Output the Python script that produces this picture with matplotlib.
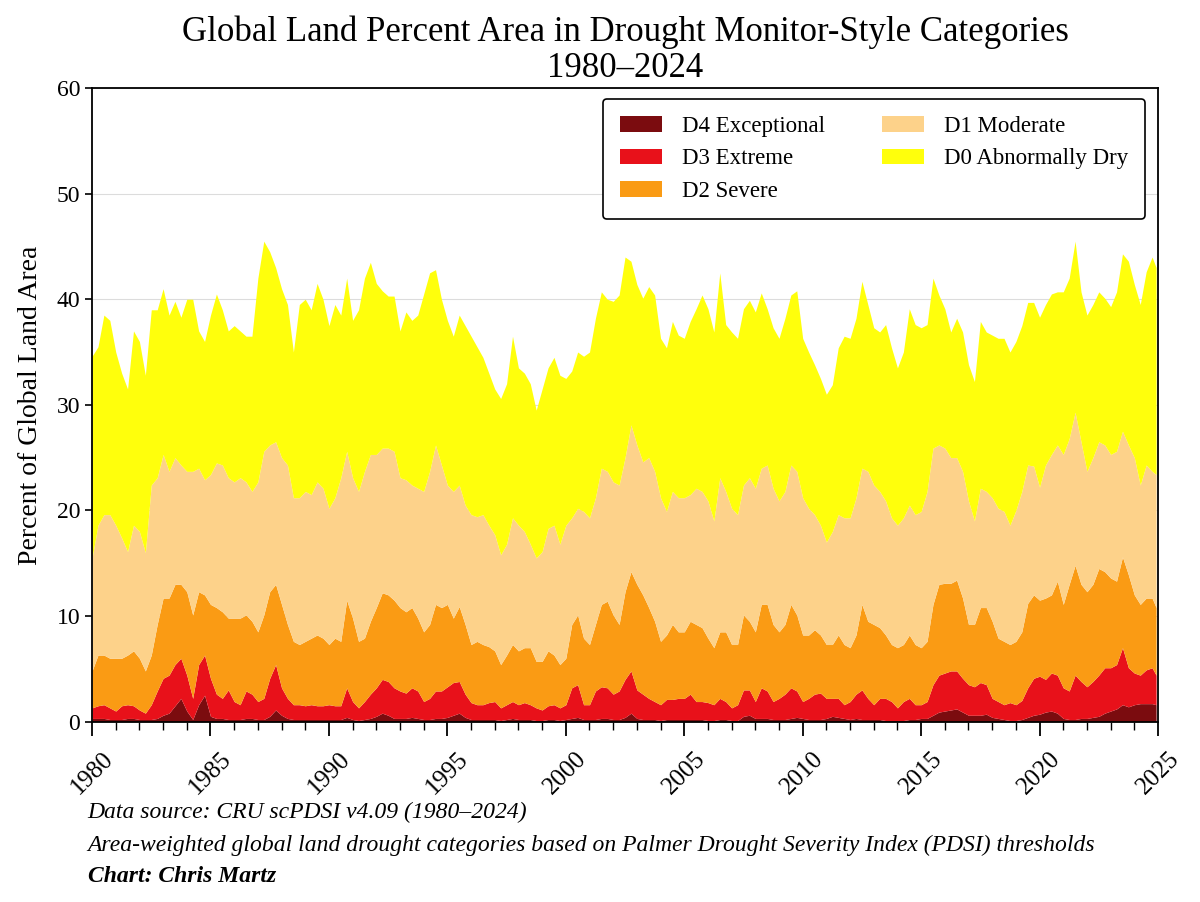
import numpy as np
import matplotlib
matplotlib.use("Agg")
import matplotlib.pyplot as plt

# quarterly readings (cumulative % of land in each category or worse), last value = Dec 2024
d0_top = [34.6, 35.5, 38.5, 38.0,  35.0, 33.0, 31.5, 37.0,  36.0, 32.8, 39.0, 39.0,
          41.0, 38.5, 39.8, 38.3,  40.0, 40.0, 37.0, 36.0,  38.5, 40.5, 39.0, 37.0,
          37.5, 37.0, 36.5, 36.5,  42.0, 45.5, 44.5, 43.0,  41.0, 39.5, 35.0, 39.5,
          40.0, 39.0, 41.5, 40.0,  37.5, 39.5, 38.5, 42.0,  38.0, 39.0, 42.0, 43.5,
          41.5, 40.8, 40.3, 40.3,  37.0, 38.8, 38.0, 38.5,  40.5, 42.5, 42.8, 40.0,
          38.0, 36.5, 38.5, 37.5,  36.5, 35.5, 34.5, 33.0,  31.5, 30.6, 32.0, 36.5,
          33.5, 33.0, 32.0, 29.5,  31.5, 33.5, 34.5, 32.8,  32.5, 33.2, 35.0, 34.6,
          35.0, 38.2, 40.7, 40.0,  39.8, 40.4, 44.0, 43.6,  41.4, 40.1, 41.2, 40.4,
          36.3, 35.4, 37.9, 36.6,  36.3, 37.9, 39.1, 40.4,  39.1, 36.9, 42.5, 37.6,
          36.9, 36.3, 39.1, 39.9,  38.8, 40.6, 39.1, 37.3,  36.3, 38.2, 40.4, 40.8,
          36.3, 35.0, 33.8, 32.5,  31.0, 31.9, 35.4, 36.5,  36.3, 38.2, 41.7, 39.5,
          37.3, 36.9, 37.6, 35.4,  33.5, 35.0, 39.1, 37.6,  37.3, 37.6, 42.0, 40.4,
          39.1, 36.9, 38.2, 36.9,  33.8, 32.2, 37.9, 36.9,  36.6, 36.3, 36.3, 35.0,
          36.0, 37.5, 39.7, 39.7,  38.3, 39.5, 40.5, 40.7,  40.7, 42.0, 45.5, 40.7,
          38.5, 39.5, 40.7, 40.1,  39.3, 40.7, 44.3, 43.6,  41.4, 39.5, 42.6, 44.0,
          43.0]

d1_top = [15.5, 18.6, 19.6, 19.6,  18.6, 17.4, 16.1, 18.6,  18.0, 16.0, 22.4, 23.1,
          25.3, 23.7, 25.0, 24.3,  23.7, 23.7, 24.0, 22.9,  23.4, 24.5, 24.3, 23.1,
          22.7, 23.1, 22.7, 21.8,  22.7, 25.6, 26.2, 26.5,  25.0, 24.3, 21.2, 21.2,
          21.8, 21.5, 22.7, 22.1,  20.2, 21.2, 23.1, 25.6,  23.1, 21.8, 23.7, 25.3,
          25.3, 25.9, 25.9, 25.6,  23.1, 22.9, 22.4, 22.1,  21.8, 23.7, 26.2, 24.3,
          22.4, 21.8, 22.4, 20.5,  19.6, 19.4, 19.6, 18.6,  17.7, 15.8, 16.8, 19.3,
          18.6, 18.0, 16.8, 15.5,  16.1, 18.3, 18.6, 16.8,  18.6, 19.3, 20.2, 19.9,
          19.3, 21.2, 24.0, 23.7,  22.7, 22.4, 25.0, 28.1,  26.2, 24.6, 25.0, 23.7,
          21.2, 19.9, 21.8, 21.2,  21.2, 21.5, 22.1, 21.8,  20.9, 19.0, 23.1, 21.8,
          20.2, 19.6, 22.4, 23.1,  22.1, 24.0, 24.3, 22.1,  20.9, 21.8, 24.3, 23.7,
          21.2, 20.2, 19.6, 18.6,  17.0, 18.0, 19.6, 19.3,  19.3, 21.2, 24.0, 23.7,
          22.4, 21.8, 20.9, 19.3,  18.6, 19.3, 20.5, 19.6,  19.9, 21.8, 25.9, 26.2,
          25.9, 25.0, 25.0, 23.7,  20.9, 19.0, 22.1, 21.8,  21.2, 20.2, 19.9, 18.6,
          20.0, 21.8, 24.3, 24.2,  22.2, 24.3, 25.3, 26.2,  25.3, 26.8, 29.3, 26.5,
          23.7, 25.0, 26.5, 26.2,  25.3, 25.6, 27.5, 26.2,  25.0, 22.4, 24.3, 23.7,
          23.4]

d2_top = [4.8, 6.3, 6.3, 6.0,  6.0, 6.0, 6.3, 6.7,  6.0, 4.8, 6.3, 9.2,
          11.7, 11.7, 13.0, 13.0,  12.3, 10.1, 12.3, 12.0,  11.1, 10.8, 10.4, 9.8,
          9.8, 9.8, 10.1, 9.5,  8.5, 10.1, 12.3, 13.0,  11.1, 9.2, 7.6, 7.3,
          7.6, 7.9, 8.2, 7.9,  7.3, 7.9, 7.6, 11.5,  9.8, 7.6, 7.9, 9.5,
          10.8, 12.2, 12.0, 11.5,  10.8, 10.4, 10.8, 9.8,  8.5, 9.2, 11.1, 10.8,
          11.1, 9.8, 10.9, 9.2,  7.3, 7.6, 7.3, 7.1,  6.7, 5.4, 6.3, 7.3,
          6.7, 7.0, 7.0, 5.7,  5.7, 6.7, 6.3, 5.4,  6.0, 9.2, 10.1, 7.9,
          7.3, 9.2, 11.1, 11.4,  10.1, 9.2, 12.3, 14.2,  13.0, 12.0, 10.8, 9.5,
          7.6, 8.2, 9.2, 8.5,  8.5, 9.5, 9.2, 8.9,  7.9, 7.0, 8.5, 8.5,
          7.3, 7.3, 10.1, 9.5,  8.5, 11.1, 11.1, 9.2,  8.5, 9.2, 11.1, 10.1,
          8.2, 8.2, 8.7, 8.2,  7.3, 7.3, 8.2, 7.3,  7.0, 8.2, 11.1, 9.5,
          9.2, 8.9, 8.2, 7.3,  7.0, 7.3, 8.2, 7.3,  7.0, 7.6, 11.1, 13.0,
          13.1, 13.1, 13.4, 11.7,  9.2, 9.2, 10.8, 10.8,  9.5, 7.9, 7.6, 7.3,
          7.6, 8.5, 11.2, 12.0,  11.5, 11.7, 12.0, 13.3,  11.1, 13.0, 14.8, 13.0,
          12.3, 13.0, 14.5, 14.2,  13.6, 13.3, 15.6, 13.9,  12.0, 11.1, 11.7, 11.7,
          10.8]

d3_top = [1.3, 1.5, 1.6, 1.3,  1.0, 1.5, 1.6, 1.5,  1.1, 0.8, 1.6, 2.9,
          4.1, 4.4, 5.4, 6.0,  4.4, 2.2, 5.4, 6.3,  4.1, 2.6, 2.2, 3.0,
          1.9, 1.6, 2.9, 2.6,  1.9, 2.2, 4.1, 5.4,  3.2, 2.2, 1.6, 1.6,
          1.5, 1.6, 1.5, 1.5,  1.6, 1.5, 1.5, 3.2,  1.9, 1.3, 1.9, 2.6,
          3.2, 4.0, 3.8, 3.2,  2.9, 2.7, 3.2, 2.9,  1.9, 2.2, 2.9, 2.9,
          3.3, 3.7, 3.8, 2.6,  1.8, 1.6, 1.6, 1.8,  1.9, 1.3, 1.6, 1.9,
          1.6, 1.8, 1.6, 1.3,  1.1, 1.5, 1.6, 1.3,  1.6, 3.2, 3.5, 1.6,
          1.6, 2.9, 3.3, 3.2,  2.6, 2.9, 4.0, 4.8,  3.0, 2.6, 2.2, 1.9,
          1.6, 2.1, 2.1, 2.2,  2.2, 2.6, 1.9, 1.9,  1.8, 1.6, 2.2, 1.9,
          1.3, 1.6, 3.0, 3.0,  1.9, 3.2, 2.9, 1.9,  2.2, 2.6, 3.2, 2.9,
          1.9, 2.2, 2.6, 2.7,  2.2, 2.2, 2.2, 1.6,  1.9, 2.6, 3.0, 2.2,
          1.6, 2.2, 2.2, 1.9,  1.3, 1.9, 2.2, 1.6,  1.6, 1.9, 3.5, 4.4,
          4.6, 4.8, 4.8, 4.1,  3.5, 3.3, 3.7, 3.5,  2.2, 1.9, 1.6, 1.8,
          1.6, 2.0, 3.2, 4.1,  4.3, 4.0, 4.6, 4.4,  3.2, 2.9, 4.4, 3.8,
          3.3, 3.8, 4.4, 5.1,  5.1, 5.4, 7.0, 5.1,  4.6, 4.4, 4.9, 5.1,
          4.4]

d4_top = [0.3, 0.3, 0.3, 0.2,  0.2, 0.2, 0.3, 0.3,  0.2, 0.2, 0.2, 0.3,
          0.6, 0.8, 1.5, 2.2,  1.0, 0.2, 1.6, 2.5,  0.5, 0.3, 0.3, 0.2,
          0.2, 0.2, 0.3, 0.3,  0.2, 0.2, 0.5, 1.1,  0.6, 0.3, 0.2, 0.2,
          0.2, 0.2, 0.2, 0.2,  0.2, 0.2, 0.2, 0.4,  0.2, 0.1, 0.2, 0.3,
          0.5, 0.8, 0.6, 0.3,  0.3, 0.3, 0.4, 0.3,  0.2, 0.2, 0.3, 0.3,
          0.4, 0.6, 0.8, 0.4,  0.2, 0.2, 0.2, 0.2,  0.2, 0.1, 0.2, 0.3,
          0.2, 0.2, 0.2, 0.1,  0.1, 0.2, 0.2, 0.1,  0.2, 0.3, 0.4, 0.2,
          0.2, 0.2, 0.3, 0.3,  0.2, 0.2, 0.4, 0.8,  0.3, 0.2, 0.2, 0.2,
          0.1, 0.2, 0.2, 0.2,  0.2, 0.2, 0.2, 0.2,  0.1, 0.1, 0.2, 0.2,
          0.1, 0.1, 0.5, 0.6,  0.3, 0.3, 0.3, 0.2,  0.2, 0.2, 0.3, 0.4,
          0.3, 0.2, 0.2, 0.2,  0.3, 0.5, 0.4, 0.3,  0.2, 0.3, 0.2, 0.2,
          0.2, 0.2, 0.1, 0.1,  0.1, 0.1, 0.2, 0.2,  0.3, 0.3, 0.6, 0.9,
          1.0, 1.1, 1.2, 0.9,  0.6, 0.6, 0.6, 0.7,  0.4, 0.3, 0.2, 0.1,
          0.1, 0.2, 0.4, 0.6,  0.7, 0.9, 1.0, 0.8,  0.3, 0.2, 0.2, 0.3,
          0.3, 0.4, 0.5, 0.8,  1.0, 1.2, 1.6, 1.4,  1.6, 1.7, 1.7, 1.7,
          1.6]

labels = ["D4 Exceptional", "D3 Extreme", "D2 Severe", "D1 Moderate", "D0 Abnormally Dry"]
colors = ["#7b0c0f", "#e8111a", "#fa9b14", "#fdd28a", "#ffff0c"]
year_ticks = list(range(1980, 2026, 5))

# time axis: quarters from Jan 1980, last point Dec 2024
t = np.append(np.arange(1980, 2025, 0.25), 2024.92)

plt.rcParams['font.family'] = ['Liberation Serif', 'DejaVu Serif']

fig = plt.figure(figsize=(12, 9.02), dpi=100)
ax = fig.add_axes([0.0767, 0.2, 0.8883, 0.7024])

layers = [np.zeros(len(t)), np.array(d4_top), np.array(d3_top),
          np.array(d2_top), np.array(d1_top), np.array(d0_top)]
for i in range(5):
    ax.fill_between(t, layers[i], layers[i + 1], color=colors[i], lw=0,
                    label=labels[i], zorder=2)

ax.set_xlim(1980, 2025)
ax.set_ylim(0, 60)
ax.set_xticks(year_ticks)
ax.set_xticks(range(1980, 2026), minor=True)
ax.set_xticklabels([str(y) for y in year_ticks], rotation=45, fontsize=18)
ax.tick_params(axis='y', labelsize=17, length=5, width=1.2)
ax.tick_params(axis='x', which='major', length=10, width=1.3, pad=9)
ax.tick_params(axis='x', which='minor', length=6, width=1)
ax.grid(axis='y', color='#dcdcdc', lw=0.8, zorder=1)
ax.set_axisbelow(True)
for s in ax.spines.values():
    s.set_linewidth(1.3)

ax.set_ylabel("Percent of Global Land Area", fontsize=20, labelpad=10)
ax.set_title("Global Land Percent Area in Drought Monitor-Style Categories\n1980\u20132024",
             fontsize=25, linespacing=1.1, pad=8)

leg = ax.legend(loc='upper right', ncol=2, fontsize=16.5, frameon=True,
                edgecolor='black', fancybox=True, handlelength=1.85, handleheight=0.65,
                handletextpad=0.85, borderpad=0.75, columnspacing=2.5, labelspacing=0.5,
                borderaxespad=0, bbox_to_anchor=(0.988, 0.983))
leg.get_frame().set_linewidth(1.2)
leg.get_frame().set_alpha(1)

fig.text(0.073, 0.093, "Data source: CRU scPDSI v4.09 (1980\u20132024)",
         fontsize=17, style='italic')
fig.text(0.073, 0.057, "Area-weighted global land drought categories based on Palmer Drought Severity Index (PDSI) thresholds",
         fontsize=17, style='italic')
fig.text(0.073, 0.022, "Chart: Chris Martz", fontsize=17, style='italic', weight='bold')

fig.savefig("out.png", dpi=100)
